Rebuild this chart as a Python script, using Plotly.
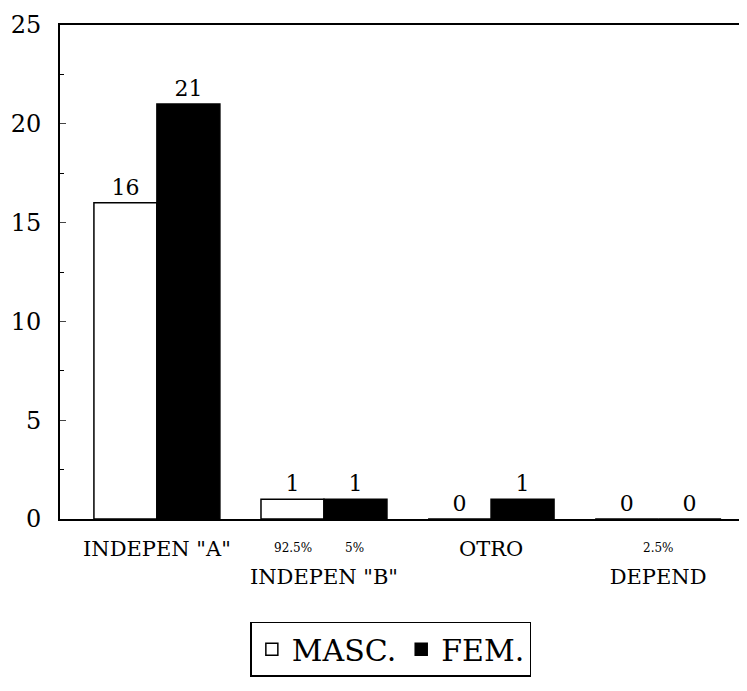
import plotly.graph_objects as go

categories = ['INDEPEN "A"', 'INDEPEN "B"', "OTRO", "DEPEND"]
masc = [16, 1, 0, 0]
fem = [21, 1, 1, 0]
# small percentage notes under some groups: (category index, offset side, text)
pct_notes = [(1, -1, "92.5%"), (1, 1, "5%"), (3, 0, "2.5%")]
y_ticks = [0, 5, 10, 15, 20, 25]

FONT = "DejaVu Serif"

# staggered category labels: every second one drops to a second line
tick_text = [c if i % 2 == 0 else "&nbsp;<br>" + c for i, c in enumerate(categories)]
x_idx = list(range(len(categories)))

fig = go.Figure()
fig.add_trace(go.Bar(
    x=x_idx, y=masc, name="MASC.",
    marker=dict(color="white", line=dict(color="black", width=1.5)),
    text=masc, textposition="outside", cliponaxis=False,
    textfont=dict(family=FONT, size=22, color="black"),
))
fig.add_trace(go.Bar(
    x=x_idx, y=fem, name="FEM.",
    marker=dict(color="black", line=dict(color="black", width=1.5)),
    text=fem, textposition="outside", cliponaxis=False,
    textfont=dict(family=FONT, size=22, color="black"),
))

for cat, side, txt in pct_notes:
    fig.add_annotation(
        x=cat, y=-0.04, xref="x", yref="paper", text=txt, showarrow=False,
        xshift=side * 31, yanchor="top",
        font=dict(family=FONT, size=12, color="black"),
    )

# page body adds 8px offset, so the figure is sized/margined to compensate
fig.update_layout(
    width=739, height=683,
    margin=dict(l=52, r=2, t=17, b=172),
    paper_bgcolor="white", plot_bgcolor="white",
    barmode="group", bargap=0.246, bargroupgap=0,
    font=dict(family=FONT, color="black"),
    showlegend=True,
    legend=dict(
        orientation="h", x=0.483, xanchor="center", y=-0.208, yanchor="top",
        bordercolor="black", borderwidth=1.5, bgcolor="white",
        font=dict(family=FONT, size=30, color="black"),
        itemclick=False,
    ),
)
fig.update_xaxes(
    range=[-0.58, 3.52], tickvals=x_idx, ticktext=tick_text, automargin=False,
    tickangle=0, ticklabelstandoff=10,
    showline=True, linecolor="black", linewidth=2, mirror=True,
    showgrid=False, ticks="", tickfont=dict(family=FONT, size=21, color="black"),
)
fig.update_yaxes(
    range=[0, 25], tickvals=y_ticks, automargin=False, ticklabeloverflow="allow",
    showline=True, linecolor="black", linewidth=2,
    showgrid=False, zeroline=False, ticks="inside", ticklen=6,
    ticklabelstandoff=12,
    minor=dict(ticks="inside", ticklen=4, dtick=2.5, tickcolor="black"),
    tickfont=dict(family=FONT, size=24, color="black"),
)

fig.write_html("out.html")
